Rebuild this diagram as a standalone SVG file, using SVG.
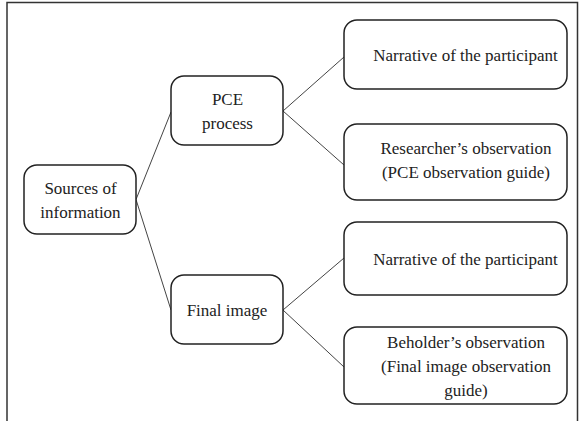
<svg xmlns="http://www.w3.org/2000/svg" width="579" height="421" viewBox="0 0 579 421">
<style>
.box{fill:#fff;stroke:#222;stroke-width:1.5}
.t{font-family:"Liberation Serif","Times New Roman",serif;font-size:17px;fill:#222;text-anchor:middle}
.c{stroke:#444;stroke-width:1;fill:none}
.frame{stroke:#333;stroke-width:1.5;fill:none}
</style>
<rect width="579" height="421" fill="#fff"/>
<path class="frame" d="M7,421 V2.5 H577.5 V421"/>
<g id="connectors">
<line class="c" x1="136" y1="199.5" x2="171" y2="112"/>
<line class="c" x1="136" y1="199.5" x2="171" y2="310"/>
<line class="c" x1="283" y1="111" x2="344" y2="57"/>
<line class="c" x1="283" y1="111" x2="344" y2="165"/>
<line class="c" x1="283" y1="310" x2="344" y2="258"/>
<line class="c" x1="283" y1="310" x2="344" y2="367"/>
</g>
<g id="sources">
<rect class="box" x="24" y="165" width="112" height="69" rx="13"/>
<text class="t" x="80.5" y="194">Sources of</text>
<text class="t" x="80.5" y="218">information</text>
</g>
<g id="pce">
<rect class="box" x="171" y="76" width="112" height="69" rx="13"/>
<text class="t" x="227.5" y="105">PCE</text>
<text class="t" x="227.5" y="129">process</text>
</g>
<g id="final">
<rect class="box" x="171" y="275" width="112" height="69" rx="13"/>
<text class="t" x="227" y="316">Final image</text>
</g>
<g id="narrative1">
<rect class="box" x="344" y="20" width="223" height="69" rx="13"/>
<text class="t" x="465.5" y="61">Narrative of the participant</text>
</g>
<g id="researcher">
<rect class="box" x="344" y="124" width="223" height="76" rx="13"/>
<text class="t" x="466" y="154">Researcher’s observation</text>
<text class="t" x="466" y="178">(PCE observation guide)</text>
</g>
<g id="narrative2">
<rect class="box" x="344" y="222" width="223" height="73" rx="13"/>
<text class="t" x="465.5" y="265">Narrative of the participant</text>
</g>
<g id="beholder">
<rect class="box" x="344" y="327" width="223" height="77" rx="13"/>
<text class="t" x="466" y="348">Beholder’s observation</text>
<text class="t" x="466" y="372">(Final image observation</text>
<text class="t" x="466" y="396">guide)</text>
</g>
</svg>
